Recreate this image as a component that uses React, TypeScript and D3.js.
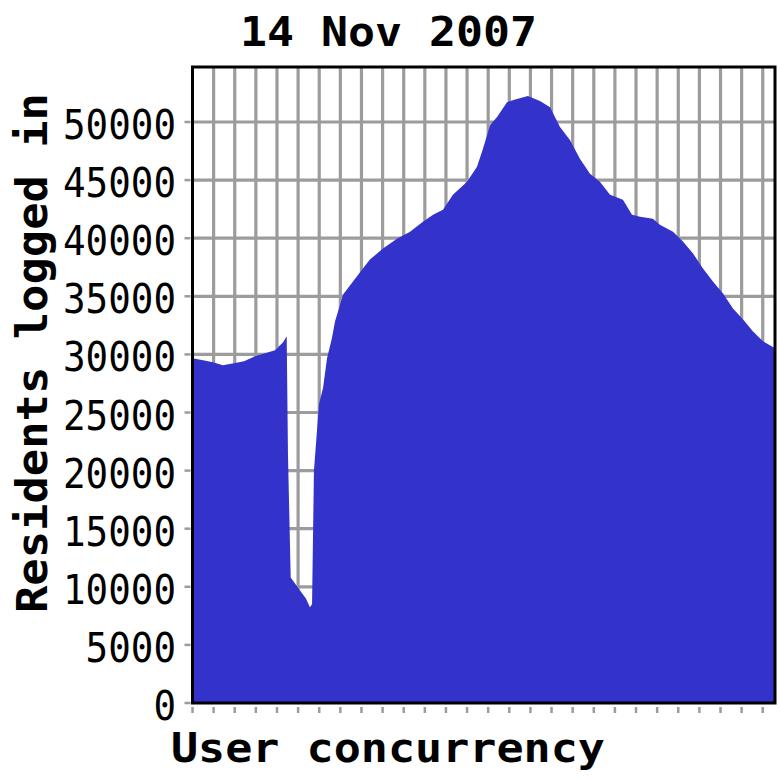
import React from "react";
import * as d3 from "d3";

// sample position (one unit = one vertical grid step) and residents logged in
const slots = [
  0, 0.5, 0.97, 1.44, 1.96, 2.44, 2.96, 3.43, 3.91, 4.29, 4.46, 4.52, 4.65, 5.09,
  5.37, 5.56, 5.66, 5.75, 5.99, 6.18, 6.37, 6.6, 6.75, 6.89, 7.13, 7.6, 8.07, 8.4,
  9.02, 9.68, 10.3, 10.91, 11.39, 11.86, 12.33, 13.0, 13.47, 13.75, 14.09, 14.42,
  14.89, 15.36, 15.88, 16.45, 16.93, 17.4, 17.87, 18.35, 18.82, 19.29, 19.77,
  20.38, 20.81, 21.19, 21.8, 22.13, 22.75, 23.22, 23.7, 24.17, 24.64, 25.12,
  25.59, 26.06, 26.53, 27.01, 27.58,
];
const residents = [
  29670, 29500, 29330, 29070, 29240, 29420, 29840, 30100, 30360, 31050, 31560,
  21440, 10800, 9690, 9000, 8230, 8490, 19980, 25730, 27100, 29670, 31390, 32850,
  33700, 35160, 36280, 37390, 38160, 39110, 39960, 40560, 41420, 42020, 42450,
  43740, 44850, 46140, 47680, 49740, 50430, 51710, 51970, 52230, 51800, 51280,
  49570, 48450, 46820, 45540, 44850, 43740, 43310, 42020, 41850, 41680, 41160,
  40560, 39710, 38680, 37390, 36280, 35250, 33960, 33020, 31990, 31130, 30530,
];
const yTicks = [0, 5000, 10000, 15000, 20000, 25000, 30000, 35000, 40000, 45000, 50000];
const xGrid = d3.range(1, 28);

const TITLE = "14 Nov 2007";
const Y_LABEL = "Residents logged in";
const X_LABEL = "User concurrency";

const LEFT = 192.5;
const RIGHT = 775;
const TOP = 67;
const BOTTOM = 703;
const FILL = "#3333cc";
const GRID = "#9c9c9c";
const FONT = "'DejaVu Sans Mono', monospace";

const App = () => {
  const x = d3.scaleLinear().domain([0, 27.58]).range([LEFT, RIGHT]);
  const y = d3.scaleLinear().domain([0, 50000]).range([BOTTOM, 122]);

  const points = slots.map((s, i) => [s, residents[i]] as [number, number]);
  const area = d3
    .area<[number, number]>()
    .x((d) => x(d[0]))
    .y0(y(0))
    .y1((d) => y(d[1]));

  return (
    <svg
      width={780}
      height={780}
      style={{ position: "absolute", left: 0, top: 0, background: "#fff" }}
    >
      <text
        x={240}
        y={46}
        fontFamily={FONT}
        fontWeight="bold"
        fontSize={41}
        textLength={297}
        lengthAdjust="spacingAndGlyphs"
      >
        {TITLE}
      </text>

      {/* grid */}
      <g stroke={GRID} strokeWidth={3.2}>
        {xGrid.map((g) => (
          <line key={"v" + g} x1={x(g)} x2={x(g)} y1={TOP} y2={BOTTOM} />
        ))}
        {yTicks.slice(1).map((t) => (
          <line key={"h" + t} x1={LEFT} x2={RIGHT} y1={y(t)} y2={y(t)} />
        ))}
      </g>

      <path d={area(points) ?? ""} fill={FILL} />

      {/* frame */}
      <rect
        x={LEFT}
        y={TOP}
        width={RIGHT - LEFT}
        height={BOTTOM - TOP}
        fill="none"
        stroke="#000"
        strokeWidth={3}
      />

      {/* ticks */}
      <g stroke={GRID} strokeWidth={2.5}>
        {yTicks.map((t) => (
          <line key={"yt" + t} x1={LEFT - 8} x2={LEFT - 2} y1={y(t)} y2={y(t)} />
        ))}
        {[0, ...xGrid].map((g) => (
          <line key={"xt" + g} x1={x(g)} x2={x(g)} y1={BOTTOM + 4} y2={BOTTOM + 10} />
        ))}
      </g>

      <g fontFamily={FONT} fontSize={40} textAnchor="end">
        {yTicks.map((t) => {
          const s = String(t);
          return (
            <text
              key={"yl" + t}
              x={176}
              y={y(t) + 17}
              textLength={s.length * 22.6}
              lengthAdjust="spacingAndGlyphs"
            >
              {s}
            </text>
          );
        })}
      </g>

      <text
        transform={`translate(47, 353) rotate(-90)`}
        textAnchor="middle"
        fontFamily={FONT}
        fontWeight="bold"
        fontSize={43}
        textLength={520}
        lengthAdjust="spacingAndGlyphs"
      >
        {Y_LABEL}
      </text>

      <text
        x={171}
        y={762}
        fontFamily={FONT}
        fontWeight="bold"
        fontSize={41}
        textLength={434}
        lengthAdjust="spacingAndGlyphs"
      >
        {X_LABEL}
      </text>
    </svg>
  );
};

export default App;
